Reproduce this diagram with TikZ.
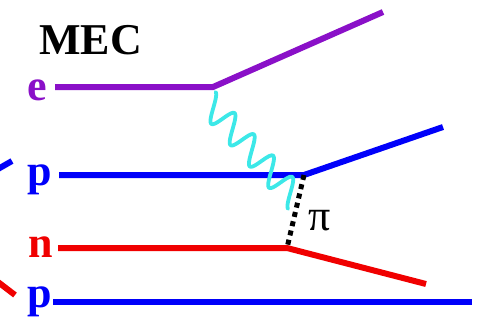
\documentclass[tikz,border=0pt]{standalone}
\usepackage{fontspec}
\setmainfont{Liberation Serif}
\definecolor{epurple}{RGB}{138,16,200}
\definecolor{pblue}{RGB}{0,0,250}
\definecolor{nred}{RGB}{240,0,0}
\definecolor{gcyan}{RGB}{60,232,232}
\tikzset{
  x=1pt, y=-1pt,
  fermion/.style={line width=6pt},
  lbl/.style={inner sep=0pt, anchor=base west, font=\bfseries\fontsize{44}{44}\selectfont},
  photon/.style={gcyan, line width=3.8pt, line cap=round, line join=round},
  pion/.style={line width=5pt, dash pattern=on 5pt off 4.5pt},
}
\begin{document}
\begin{tikzpicture}
\useasboundingbox (0,0) rectangle (481,321);
% title
\node[inner sep=0pt, anchor=base west, font=\bfseries\fontsize{44}{44}\selectfont] (mec) at (39,55) {MEC};
% labels
\node[lbl, epurple] (le) at (27,100) {e};
\node[lbl, pblue] (lp) at (27,185) {p};
\node[lbl, nred] (ln) at (28,257) {n};
\node[lbl, pblue] (lp2) at (27,307) {p};
% vertices
\coordinate (e0) at (55,87);
\coordinate (ek) at (213,87);
\coordinate (e1) at (383,12);
\coordinate (p0) at (59,175);
\coordinate (pk) at (304,175);
\coordinate (p1) at (443,127);
\coordinate (n0) at (58,248);
\coordinate (nk) at (287,248);
\coordinate (n1) at (426,284);
\coordinate (q0) at (53,302);
\coordinate (q1) at (472,302);
% fermion lines
\draw[fermion, epurple] (e0) -- (ek) -- (e1);
\draw[fermion, pblue] (p0) -- (pk) -- (p1);
\draw[fermion, nred] (n0) -- (nk) -- (n1);
\draw[fermion, pblue] (q0) -- (q1);
% edge fragments
\coordinate (bs0) at (-2,169);
\coordinate (bs1) at (12,161);
\coordinate (rs0) at (-2,282);
\coordinate (rs1) at (15,295);
\draw[fermion, pblue] (bs0) -- (bs1);
\draw[fermion, nred] (rs0) -- (rs1);
% photon
\draw[photon] plot[domain=0:1620, samples=300, smooth, variable=\t]
  ({208.5 + \t/360*19.25 + 7*cos(\t)}, {102.5 + \t/360*21.3 - 10.5*cos(\t)});
% pion
\draw[pion] (pk) -- (nk);
\node[inner sep=0pt, anchor=base west, font=\fontsize{44}{44}\selectfont] (pi) at (308,230) {π};
\end{tikzpicture}
\end{document}
